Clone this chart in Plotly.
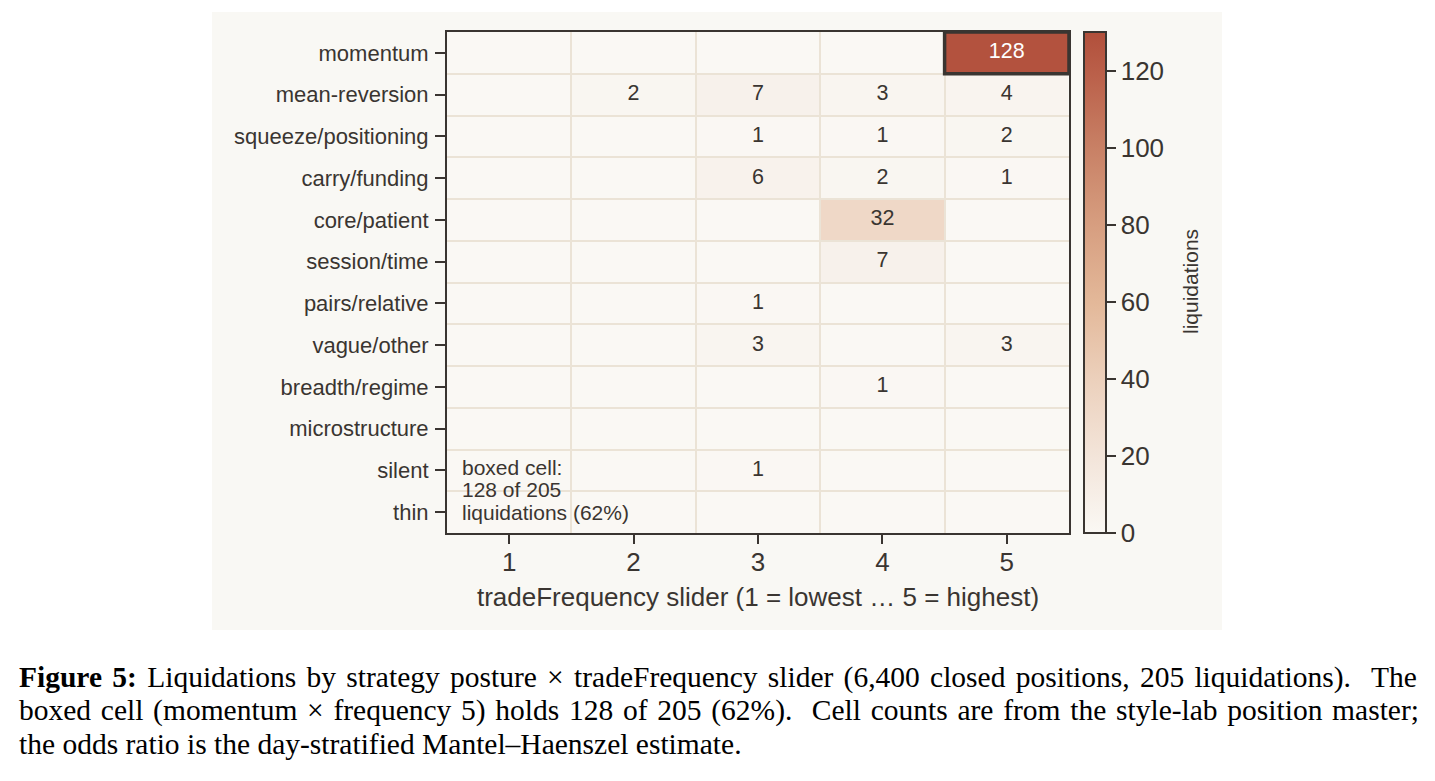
import plotly.graph_objects as go

postures = ["momentum", "mean-reversion", "squeeze/positioning", "carry/funding",
            "core/patient", "session/time", "pairs/relative", "vague/other",
            "breadth/regime", "microstructure", "silent", "thin"]
freq_levels = [1, 2, 3, 4, 5]
counts = [
    [0, 0, 0, 0, 128],
    [0, 2, 7, 3, 4],
    [0, 0, 1, 1, 2],
    [0, 0, 6, 2, 1],
    [0, 0, 0, 32, 0],
    [0, 0, 0, 7, 0],
    [0, 0, 1, 0, 0],
    [0, 0, 3, 0, 3],
    [0, 0, 0, 1, 0],
    [0, 0, 0, 0, 0],
    [0, 0, 1, 0, 0],
    [0, 0, 0, 0, 0],
]
total_liq = 205
cbar_ticks = [0, 20, 40, 60, 80, 100, 120]
caption_lines = [
    "<b>Figure 5:</b> Liquidations by strategy posture × tradeFrequency slider (6,400 closed positions, 205 liquidations).  The",
    "boxed cell (momentum × frequency 5) holds 128 of 205 (62%).  Cell counts are from the style-lab position master;",
    "the odds ratio is the day-stratified Mantel–Haenszel estimate.",
]
caption_word_spacing = [2.9, 2.35, 0]

OFF = 8  # page body margin
W, H = 1435 - 2 * OFF, 781 - 2 * OFF
PL, PR, PT, PB = 447 - OFF, 1069 - OFF, 32 - OFF, 533 - OFF  # plot area in figure pixels
def px_x(p):
    return (p - OFF - PL) / (PR - PL)
def px_y(p):
    return (PB - (p - OFF)) / (PB - PT)

DARK = "#3a3531"
GRID = "#ebe3d6"
PANEL = "#f9f8f4"
SANS = "Liberation Sans, Arial, sans-serif"
SERIF = "Liberation Serif, Times New Roman, serif"

colorscale = [[0, "#faf8f4"], [0.15, "#f3e5da"], [0.3, "#ecd1bd"], [0.46, "#e3b899"],
              [0.62, "#d69d7f"], [0.77, "#c88065"], [0.92, "#ba5f49"], [1, "#b14f3b"]]
zmax = 130

yidx = list(range(len(postures)))

fig = go.Figure()
fig.add_trace(go.Heatmap(
    z=counts, x=freq_levels, y=yidx,
    zmin=0, zmax=zmax, colorscale=colorscale,
    xgap=2, ygap=2, hoverinfo="skip",
    colorbar=dict(
        x=px_x(1084), xanchor="left", xpad=0, ypad=0,
        y=0.5, yanchor="middle", len=1, lenmode="fraction",
        thickness=22, outlinecolor=DARK, outlinewidth=2,
        ticks="outside", ticklen=9, tickwidth=2, tickcolor=DARK,
        tickvals=cbar_ticks, tickprefix="\u00a0\u00a0",
        tickfont=dict(family=SANS, size=26, color=DARK),
    ),
))

# cell labels
tx, ty, tt, tc = [], [], [], []
for r, row in enumerate(counts):
    for c, v in enumerate(row):
        if v > 0:
            tx.append(freq_levels[c]); ty.append(r); tt.append(str(v))
            tc.append("white" if v > zmax * 0.6 else DARK)
fig.add_trace(go.Scatter(x=tx, y=ty, text=tt, mode="text",
                         textfont=dict(family=SANS, size=21.5, color=tc),
                         hoverinfo="skip", showlegend=False))

# highlight box around max cell
mr, mc = max(((r, c) for r in range(len(counts)) for c in range(5)), key=lambda rc: counts[rc[0]][rc[1]])
mval = counts[mr][mc]
fig.add_shape(type="rect", xref="x", yref="y",
              x0=freq_levels[mc] - 0.5, x1=freq_levels[mc] + 0.5,
              y0=mr - 0.5, y1=mr + 0.5,
              line=dict(color=DARK, width=3.5), layer="above")

# background panel
fig.add_shape(type="rect", xref="paper", yref="paper",
              x0=px_x(212), x1=px_x(1222), y0=px_y(630), y1=px_y(12),
              fillcolor=PANEL, line=dict(width=0), layer="below")

# colorbar title
fig.add_annotation(xref="paper", yref="paper", x=px_x(1190), y=px_y(282),
                   xanchor="center", yanchor="middle", textangle=-90,
                   text="liquidations", showarrow=False,
                   font=dict(family=SANS, size=21, color=DARK))

box_lines = ["boxed cell:", f"{mval} of {total_liq}",
             f"liquidations ({round(100 * mval / total_liq)}%)"]
for i, line in enumerate(box_lines):
    fig.add_annotation(
        xref="paper", yref="paper", x=px_x(460), y=px_y(467 + 22.5 * i),
        xanchor="left", yanchor="middle", text=line,
        showarrow=False, align="left", font=dict(family=SANS, size=21, color=DARK))

for i, line in enumerate(caption_lines):
    ws = caption_word_spacing[i]
    txt = f"<span style='word-spacing:{ws}px'>{line}</span>" if ws else line
    fig.add_annotation(
        xref="paper", yref="paper", x=px_x(17), y=px_y(677 + 33.3 * i),
        xanchor="left", yanchor="middle", text=txt, showarrow=False,
        font=dict(family=SERIF, size=29.5, color="black"))

fig.update_xaxes(
    range=[0.5, 5.5], tickvals=freq_levels, showgrid=False, zeroline=False,
    showline=True, linecolor=DARK, linewidth=2, mirror=True,
    ticks="outside", ticklen=9, tickwidth=2, tickcolor=DARK, ticklabelstandoff=-4,
    tickfont=dict(family=SANS, size=26, color=DARK),
    minor=dict(tick0=0.5, dtick=1, showgrid=True, gridcolor=GRID, gridwidth=2, ticklen=0),
    title=dict(text="tradeFrequency slider (1 = lowest … 5 = highest)",
               font=dict(family=SANS, size=26, color=DARK), standoff=12),
)
fig.update_yaxes(
    range=[len(postures) - 0.5, -0.5], tickvals=yidx, ticktext=postures,
    showgrid=False, zeroline=False,
    showline=True, linecolor=DARK, linewidth=2, mirror=True,
    ticks="outside", ticklen=10, tickwidth=2, tickcolor=DARK, ticklabelstandoff=2,
    tickfont=dict(family=SANS, size=22, color=DARK),
    minor=dict(tick0=0.5, dtick=1, showgrid=True, gridcolor=GRID, gridwidth=2, ticklen=0),
)

fig.update_layout(
    width=W, height=H, autosize=False,
    margin=dict(l=PL, r=W - PR, t=PT, b=H - PB, pad=0),
    paper_bgcolor="white", plot_bgcolor=PANEL,
    showlegend=False,
)

fig.write_html("out.html")
